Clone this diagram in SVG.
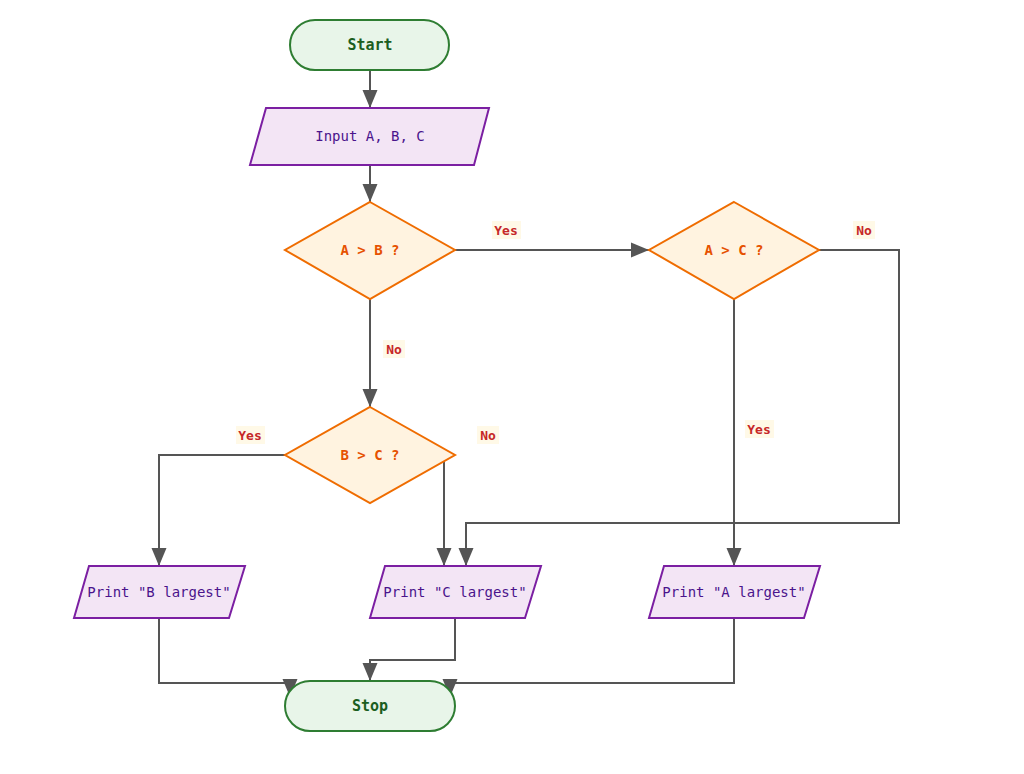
<svg xmlns="http://www.w3.org/2000/svg" width="1024" height="774" viewBox="0 0 1024 774">
<style>
text{font-family:"DejaVu Sans Mono","Liberation Mono",monospace;text-anchor:middle;dominant-baseline:central}
.term{fill:#e8f5e9;stroke:#2e7d32;stroke-width:2}
.termt{fill:#1b5e20;font-weight:bold;font-size:15px}
.io{fill:#f3e5f5;stroke:#7b1fa2;stroke-width:2}
.iot{fill:#4a148c;font-size:14px}
.dec{fill:#fff3e0;stroke:#ef6c00;stroke-width:2}
.dect{fill:#e65100;font-weight:bold;font-size:14px}
.edge{fill:none;stroke:#555;stroke-width:2;marker-end:url(#arr)}
.lblbg{fill:#fff8e1;opacity:0.8}
.lbl{fill:#c62828;font-weight:bold;font-size:13px}
</style>
<defs>
<marker id="arr" viewBox="0 0 18 16" refX="18" refY="8" markerWidth="18" markerHeight="16" markerUnits="userSpaceOnUse" orient="auto">
<path d="M0,0.5 L18,8 L0,15.5 z" fill="#555"/>
</marker>
</defs>
<rect width="1024" height="774" fill="#fff"/>
<g id="connectors">
<path class="edge" d="M370,70 V108"/>
<path class="edge" d="M370,165 V202"/>
<path class="edge" d="M455,250 H649"/>
<path class="edge" d="M370,299 V407"/>
<path class="edge" d="M285,455 H159 V566"/>
<path class="edge" d="M455,455 H444 V566"/>
<path class="edge" d="M734,299 V566"/>
<path class="edge" d="M819,250 H899 V523 H466 V566"/>
<path class="edge" d="M159,618 V683 H290 V697"/>
<path class="edge" d="M455,618 V660 H370 V681"/>
<path class="edge" d="M734,618 V683 H450 V697"/>
<g id="labels">
<rect class="lblbg" x="492" y="221" width="29" height="18"/><text class="lbl" x="506" y="230">Yes</text>
<rect class="lblbg" x="383" y="340" width="22" height="18"/><text class="lbl" x="394" y="349">No</text>
<rect class="lblbg" x="236" y="426" width="29" height="18"/><text class="lbl" x="250" y="435">Yes</text>
<rect class="lblbg" x="477" y="426" width="22" height="18"/><text class="lbl" x="488" y="435">No</text>
<rect class="lblbg" x="745" y="420" width="29" height="18"/><text class="lbl" x="759" y="429">Yes</text>
<rect class="lblbg" x="853" y="221" width="22" height="18"/><text class="lbl" x="864" y="230">No</text>
</g>
</g>
<g id="start"><rect class="term" x="290" y="20" width="159" height="50" rx="25"/><text class="termt" x="370" y="45">Start</text></g>
<g id="input"><polygon class="io" points="266,108 489,108 474,165 250,165"/><text class="iot" x="370" y="136">Input A, B, C</text></g>
<g id="ab"><polygon class="dec" points="370,202 455,250 370,299 285,250"/><text class="dect" x="370" y="250">A &gt; B ?</text></g>
<g id="ac"><polygon class="dec" points="734,202 819,250 734,299 649,250"/><text class="dect" x="734" y="250">A &gt; C ?</text></g>
<g id="bc"><polygon class="dec" points="370,407 455,455 370,503 285,455"/><text class="dect" x="370" y="455">B &gt; C ?</text></g>
<g id="printB"><polygon class="io" points="89,566 245,566 229,618 74,618"/><text class="iot" x="159" y="592">Print "B largest"</text></g>
<g id="printC"><polygon class="io" points="385,566 541,566 525,618 370,618"/><text class="iot" x="455" y="592">Print "C largest"</text></g>
<g id="printA"><polygon class="io" points="664,566 820,566 804,618 649,618"/><text class="iot" x="734" y="592">Print "A largest"</text></g>
<g id="stop"><rect class="term" x="285" y="681" width="170" height="50" rx="25"/><text class="termt" x="370" y="706">Stop</text></g>
</svg>
